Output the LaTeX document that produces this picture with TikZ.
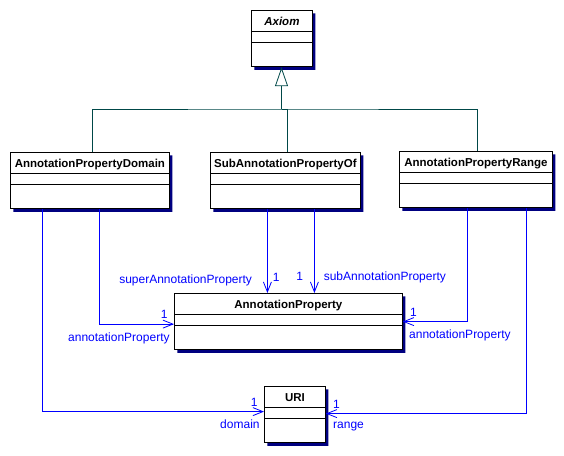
\documentclass[tikz,border=0pt]{standalone}
\usepackage{fontspec}
\setmainfont{Liberation Sans}
\usetikzlibrary{arrows.meta,positioning,calc,shapes.multipart,shadows}
\definecolor{umlblue}{RGB}{0,0,255}
\definecolor{umlteal}{RGB}{0,72,72}
\definecolor{umlshadow}{RGB}{0,0,128}
\newcommand{\umlname}[1]{\rule[-5.5pt]{0pt}{20pt}#1\nodepart{second}\rule{0pt}{10pt}\nodepart{third}\rule{0pt}{24pt}}

\begin{document}
\begin{tikzpicture}[x=1pt,y=-1pt,
 cls/.style={rectangle split,rectangle split parts=3,draw,fill=white,line width=0.8pt,inner xsep=2pt,inner ysep=0pt,align=center,anchor=north west,font=\fontsize{11.5}{13}\selectfont\bfseries,general shadow={fill=umlshadow,shadow xshift=3pt,shadow yshift=-3pt}},
 gen/.style={draw=umlteal,line width=0.8pt},
 assoc/.style={draw=umlblue,line width=0.8pt,-{Straight Barb[length=10pt,width=8pt]}},
 lbl/.style={text=umlblue,inner sep=0pt,font=\fontsize{12}{14}\selectfont}]
\useasboundingbox (0,0) rectangle (564,455);
% classes
\node[cls,text width=57pt] (axiom) at (251,10) {\umlname{\textit{Axiom}}};
\node[cls,text width=155pt] (domain) at (10,152) {\umlname{AnnotationPropertyDomain}};
\node[cls,text width=146pt] (sub) at (210,152) {\umlname{SubAnnotationPropertyOf}};
\node[cls,text width=149pt] (range) at (399,151) {\umlname{AnnotationPropertyRange}};
\node[cls,text width=224pt] (ap) at (174,293) {\umlname{AnnotationProperty}};
\node[cls,text width=57pt] (uri) at (264,386) {\umlname{URI}};
% generalization
\coordinate (bus) at (281.5,109);
\draw[gen] ([xshift=2.5pt]domain.north) |- (bus) -| ([xshift=1.5pt]range.north);
\draw[gen] ([xshift=2pt]sub.north) |- (bus);
\draw[gen,-{Triangle[open,length=19pt,width=13pt]}] (bus) -- (bus |- axiom.south);
% associations
\coordinate (domU) at ([xshift=-47.5pt]domain.south);
\coordinate (domA) at ([xshift=9.5pt]domain.south);
\coordinate (supA) at ([xshift=-18pt]sub.south);
\coordinate (subA) at ([xshift=29pt]sub.south);
\coordinate (rngA) at ([xshift=-8.5pt]range.south);
\coordinate (rngU) at ([xshift=50.5pt]range.south);
\draw[assoc] (domU) |- ([yshift=3pt]uri.west)
  node[lbl,anchor=south east,xshift=-6pt,yshift=5pt] {1}
  node[lbl,anchor=north east,xshift=-4pt,yshift=-8pt] {domain};
\draw[assoc] (domA) |- ([yshift=-2.5pt]ap.west)
  node[lbl,anchor=south east,xshift=-6pt,yshift=5pt] {1}
  node[lbl,anchor=north east,xshift=-4pt,yshift=-8pt] {annotationProperty};
\draw[assoc] (supA) -- (supA |- ap.north)
  node[lbl,anchor=south west,xshift=5pt,yshift=11pt] {1}
  node[lbl,anchor=south east,xshift=-15pt,yshift=7pt] {superAnnotationProperty};
\draw[assoc] (subA) -- (subA |- ap.north)
  node[lbl,anchor=south east,xshift=-11pt,yshift=12pt] {1}
  node[lbl,anchor=south west,xshift=9pt,yshift=10pt] {subAnnotationProperty};
\draw[assoc] (rngA) |- (ap.east)
  node[lbl,anchor=south west,xshift=7pt,yshift=5pt] {1}
  node[lbl,anchor=north west,xshift=6pt,yshift=-8pt] {annotationProperty};
\draw[assoc] (rngU) |- ([yshift=1pt]uri.east)
  node[lbl,anchor=south west,xshift=7pt,yshift=5pt] {1}
  node[lbl,anchor=north west,xshift=7pt,yshift=-8pt] {range};
\end{tikzpicture}
\end{document}
